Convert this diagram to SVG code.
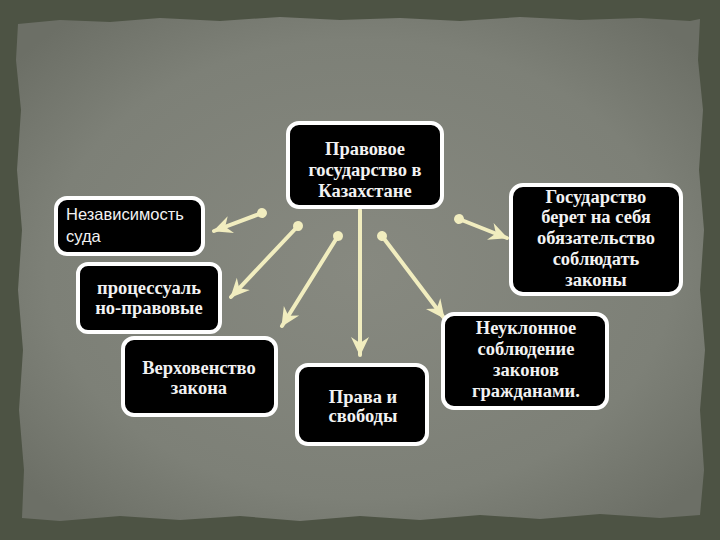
<svg xmlns="http://www.w3.org/2000/svg" width="720" height="540" viewBox="0 0 720 540">
<defs>
<radialGradient id="paper" cx="50%" cy="50%" r="65%">
<stop offset="0" stop-color="#878980"/>
<stop offset="0.7" stop-color="#7d8077"/>
<stop offset="1" stop-color="#6c6f66"/>
</radialGradient>
<marker id="head" markerUnits="userSpaceOnUse" markerWidth="20" markerHeight="20" viewBox="0 0 20 20" refX="18" refY="10" orient="auto">
<path d="M0,1 L19,10 L0,19 L6,10 Z" fill="#f1edbf"/>
</marker>
<marker id="ball" markerUnits="userSpaceOnUse" markerWidth="12" markerHeight="12" viewBox="0 0 12 12" refX="6" refY="6" orient="auto">
<circle cx="6" cy="6" r="5" fill="#f1edbf"/>
</marker>
</defs>
<style>
.box{fill:#000;stroke:#fff;stroke-width:4}
.t{font-family:"Liberation Serif","DejaVu Serif",serif;font-size:18.5px;fill:#f2f2f2;text-anchor:middle;font-weight:bold}
.s{font-family:"Liberation Sans","DejaVu Sans",sans-serif;font-size:16.5px;fill:#f2f2f2}
.c{stroke:#f1edbf;stroke-width:4;fill:none;stroke-linecap:round}
</style>
<rect x="0" y="0" width="720" height="540" fill="#4d5344"/>
<path d="M18,24 L60,20 L110,22 L160,18 L220,21 L280,17 L340,20 L400,18 L460,21 L520,17 L580,20 L640,18 L690,21 L700,19 L698,60 L703,110 L699,170 L704,230 L700,290 L705,350 L700,410 L704,470 L700,515 L660,518 L600,514 L540,519 L480,515 L420,520 L360,516 L300,521 L240,516 L180,520 L120,516 L60,521 L22,518 L24,470 L19,410 L23,350 L18,290 L22,230 L17,170 L21,110 L16,60 Z" fill="url(#paper)"/>

<g id="connectors">
<line class="c" x1="262" y1="213" x2="214" y2="231" marker-start="url(#ball)" marker-end="url(#head)"/>
<line class="c" x1="298" y1="226" x2="231" y2="297" marker-start="url(#ball)" marker-end="url(#head)"/>
<line class="c" x1="338" y1="236" x2="282" y2="326" marker-start="url(#ball)" marker-end="url(#head)"/>
<line class="c" x1="360" y1="210" x2="360" y2="355" marker-end="url(#head)"/>
<line class="c" x1="382" y1="236" x2="444" y2="318" marker-start="url(#ball)" marker-end="url(#head)"/>
<line class="c" x1="459" y1="219" x2="507" y2="238" marker-start="url(#ball)" marker-end="url(#head)"/>
</g>

<g id="center">
<rect class="box" x="288" y="123" width="154" height="84" rx="11"/>
<text class="t" x="365" y="155">Правовое</text>
<text class="t" x="365" y="176">государство в</text>
<text class="t" x="365" y="197">Казахстане</text>
</g>
<g id="nezavisimost">
<rect class="box" x="56" y="198" width="147" height="56" rx="11"/>
<text class="s" x="66" y="220">Независимость</text>
<text class="s" x="66" y="242">суда</text>
</g>
<g id="processual">
<rect class="box" x="78" y="264" width="142" height="68" rx="10"/>
<text class="t" x="149" y="294">процессуаль</text>
<text class="t" x="149" y="314">но-правовые</text>
</g>
<g id="verhovenstvo">
<rect class="box" x="123" y="338" width="153" height="77" rx="11"/>
<text class="t" x="199" y="374">Верховенство</text>
<text class="t" x="199" y="394">закона</text>
</g>
<g id="prava">
<rect class="box" x="297" y="365" width="130" height="79" rx="11"/>
<text class="t" x="363" y="403">Права и</text>
<text class="t" x="363" y="422">свободы</text>
</g>
<g id="neuklonnoe">
<rect class="box" x="443" y="314" width="164" height="94" rx="11"/>
<text class="t" x="526" y="334">Неуклонное</text>
<text class="t" x="526" y="355">соблюдение</text>
<text class="t" x="526" y="376">законов</text>
<text class="t" x="526" y="397">гражданами.</text>
</g>
<g id="gosudarstvo">
<rect class="box" x="511" y="185" width="170" height="109" rx="12"/>
<text class="t" x="596" y="203">Государство</text>
<text class="t" x="596" y="223">берет на себя</text>
<text class="t" x="596" y="244">обязательство</text>
<text class="t" x="596" y="265">соблюдать</text>
<text class="t" x="596" y="286">законы</text>
</g>
</svg>
